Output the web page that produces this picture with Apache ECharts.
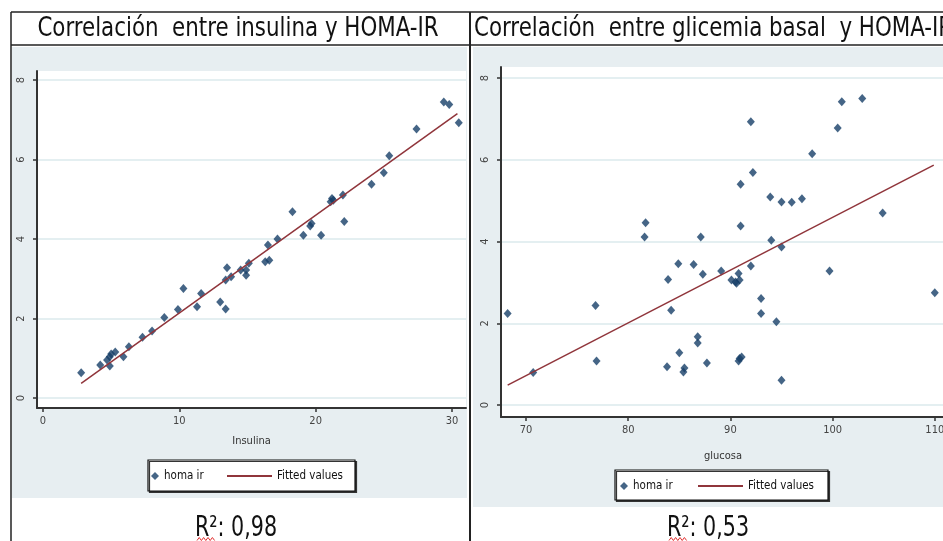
<!DOCTYPE html>
<html>
<head>
<meta charset="utf-8">
<title>Correlación HOMA-IR</title>
<script src="https://cdn.jsdelivr.net/npm/echarts@6/dist/echarts.min.js"></script>
<style>
  html, body { margin: 0; padding: 0; background: #fff; }
  #chart { width: 943px; height: 541px; }
</style>
</head>
<body>
<div id="chart"></div>
<script>
// Panel izquierdo: insulina vs homa ir
const insulina = [29.4, 29.8, 30.5, 27.4, 25.4, 25.0, 24.1, 22.0, 21.2, 21.1, 21.3, 18.3, 19.7, 19.6, 22.1, 19.1,
  20.4, 17.2, 16.5, 16.3, 16.6, 15.1, 14.9, 14.9, 14.5, 13.5, 13.4, 13.8, 13.0, 13.4, 11.6, 11.3, 10.3, 9.9,
  8.9, 8.0, 7.3, 6.3, 5.9, 5.3, 5.0, 4.9, 4.7, 4.9, 4.2, 2.8];
const homaIns = [7.45, 7.39, 6.93, 6.77, 6.10, 5.67, 5.38, 5.11, 5.02, 4.94, 4.98, 4.69, 4.39, 4.33, 4.44, 4.10,
  4.10, 4.00, 3.85, 3.43, 3.47, 3.39, 3.22, 3.09, 3.22, 3.28, 2.97, 3.05, 2.42, 2.24, 2.63, 2.30, 2.76, 2.23,
  2.03, 1.69, 1.53, 1.29, 1.04, 1.16, 1.11, 1.04, 0.96, 0.81, 0.83, 0.64];
const fitInsX = [2.8, 30.4];
const fitInsY = [0.37, 7.16];

// Panel derecho: glucosa vs homa ir
const glucosa = [102.9, 100.9, 92.0, 100.5, 98.0, 92.2, 91.0, 93.9, 95.0, 96.0, 97.0, 104.9, 81.7, 91.0, 81.6,
  87.1, 94.0, 95.0, 84.9, 86.4, 87.3, 89.1, 92.0, 83.9, 90.1, 90.5, 90.8, 90.9, 90.6, 99.7, 110.0, 93.0, 76.8,
  68.2, 84.2, 93.0, 94.5, 86.8, 86.8, 85.0, 90.9, 90.8, 91.1, 76.9, 83.8, 85.5, 85.4, 87.7, 70.7, 95.0];
const homaGlu = [7.50, 7.42, 6.93, 6.78, 6.15, 5.69, 5.40, 5.09, 4.97, 4.96, 5.05, 4.70, 4.46, 4.38, 4.11,
  4.11, 4.03, 3.87, 3.46, 3.44, 3.20, 3.28, 3.40, 3.07, 3.06, 3.01, 3.22, 3.06, 2.98, 3.28, 2.75, 2.61, 2.44,
  2.24, 2.32, 2.24, 2.04, 1.67, 1.52, 1.28, 1.14, 1.08, 1.18, 1.08, 0.94, 0.91, 0.81, 1.03, 0.80, 0.61];
const fitGluX = [68.2, 109.9];
const fitGluY = [0.49, 5.87];

const insTicks = [0, 10, 20, 30];
const gluTicks = [70, 80, 90, 100, 110];
const homaTicks = [0, 2, 4, 6, 8];

const FONT = "'Liberation Sans Narrow', 'DejaVu Sans Condensed', sans-serif";
const BG = '#e7eef1';
const DOT = '#173f68';
const FIT = '#90353b';

const zip = (xs, ys) => xs.map((x, i) => [x, ys[i]]);

const chart = echarts.init(document.getElementById('chart'));

function xAxis(gridIndex, min, max, ticks, name, nameGap) {
  return {
    gridIndex, type: 'value', min, max, name,
    nameLocation: 'middle', nameGap,
    nameTextStyle: { fontFamily: FONT, fontSize: 11, color: '#333' },
    axisLine: { show: true, onZero: false, lineStyle: { color: '#333', width: 2 } },
    axisTick: { show: true, length: 4, customValues: ticks, lineStyle: { color: '#333', width: 1.5 } },
    axisLabel: { customValues: ticks, fontFamily: FONT, fontSize: 11, color: '#444', margin: 8 },
    splitLine: { show: false }
  };
}

function yAxis(gridIndex, min, max) {
  return {
    gridIndex, type: 'value', min, max,
    axisLine: { show: true, onZero: false, lineStyle: { color: '#333', width: 2 } },
    axisTick: { show: true, length: 4, customValues: homaTicks, lineStyle: { color: '#333', width: 1.5 } },
    axisLabel: { customValues: homaTicks, rotate: 90, fontFamily: FONT, fontSize: 11, color: '#444', margin: 10 },
    splitLine: { show: true, lineStyle: { color: '#e4eff1', width: 2 } }
  };
}

function legendPair(diamondLeft, lineLeft, top) {
  const text = { fontFamily: FONT, fontSize: 11.5, color: '#111' };
  return [
    { data: [{ name: 'homa ir', icon: 'diamond' }], left: diamondLeft, top, padding: 0,
      itemWidth: 8, itemHeight: 8, itemGap: 4, textStyle: text, selectedMode: false },
    // sin símbolo en la muestra de la recta
    { data: ['Fitted values'], left: lineLeft, top, padding: 0, itemStyle: { opacity: 0 },
      itemWidth: 45, itemHeight: 10, textStyle: text, selectedMode: false }
  ];
}

// squiggly red underline under the R
function squiggle(x0, y) {
  const pts = [];
  for (let i = 0; i <= 8; i++) pts.push([x0 + i * 2.2, y + (i % 2 ? -1.5 : 1.5)]);
  return { type: 'polyline', shape: { points: pts }, style: { stroke: '#e03030', lineWidth: 1, fill: null }, z: 5, silent: true };
}

const line = (x1, y1, x2, y2, w) => ({
  type: 'line', shape: { x1, y1, x2, y2 }, style: { stroke: '#222', lineWidth: w }, z: 5, silent: true
});

const label = (text, x, y, size, sx, align) => ({
  type: 'text', x, y, scaleX: sx,
  style: { text, font: `${size}px ${FONT}`, fill: '#111', align, verticalAlign: 'middle' },
  z: 5, silent: true
});

const option = {
  animation: false,
  grid: [
    { left: 37, top: 71, width: 429, height: 337, show: true, backgroundColor: '#fff', borderWidth: 0, containLabel: false, outerBoundsMode: 'none' },
    { left: 501, top: 67, width: 444, height: 350, show: true, backgroundColor: '#fff', borderWidth: 0, containLabel: false, outerBoundsMode: 'none' }
  ],
  xAxis: [
    xAxis(0, -0.44, 31.03, insTicks, 'Insulina', 28),
    xAxis(1, 67.55, 111.0, gluTicks, 'glucosa', 34)
  ],
  yAxis: [
    yAxis(0, -0.25, 8.23),
    yAxis(1, -0.29, 8.27)
  ],
  legend: [...legendPair(151, 226, 470), ...legendPair(620, 697, 480)],
  series: [
    { name: 'homa ir', type: 'scatter', xAxisIndex: 0, yAxisIndex: 0, symbol: 'diamond', symbolSize: [8, 9],
      itemStyle: { color: DOT }, data: zip(insulina, homaIns) },
    { name: 'Fitted values', type: 'line', xAxisIndex: 0, yAxisIndex: 0, symbol: 'none',
      lineStyle: { color: FIT, width: 1.5 }, itemStyle: { color: FIT }, data: zip(fitInsX, fitInsY) },
    { name: 'homa ir', type: 'scatter', xAxisIndex: 1, yAxisIndex: 1, symbol: 'diamond', symbolSize: [8, 9],
      itemStyle: { color: DOT }, data: zip(glucosa, homaGlu) },
    { name: 'Fitted values', type: 'line', xAxisIndex: 1, yAxisIndex: 1, symbol: 'none',
      lineStyle: { color: FIT, width: 1.5 }, itemStyle: { color: FIT }, data: zip(fitGluX, fitGluY) }
  ],
  graphic: [
    // fondos de los paneles
    { type: 'rect', shape: { x: 12, y: 47, width: 455, height: 451 }, style: { fill: BG }, z: -10, silent: true },
    { type: 'rect', shape: { x: 473, y: 47, width: 470, height: 460 }, style: { fill: BG }, z: -10, silent: true },
    // cajas de leyenda
    { type: 'rect', shape: { x: 148, y: 460, width: 207, height: 31 },
      style: { fill: '#fff', stroke: '#111', lineWidth: 1.2, shadowColor: '#333', shadowOffsetX: 1.5, shadowOffsetY: 1.5 }, z: 1, silent: true },
    { type: 'rect', shape: { x: 615, y: 470, width: 213, height: 30 },
      style: { fill: '#fff', stroke: '#111', lineWidth: 1.2, shadowColor: '#333', shadowOffsetX: 1.5, shadowOffsetY: 1.5 }, z: 1, silent: true },
    // bordes de la tabla
    line(11, 12, 943, 12, 1.5),
    line(11, 45, 943, 45, 1.5),
    line(11, 12, 11, 541, 1.5),
    line(470, 12, 470, 541, 2),
    // títulos
    label('Correlación  entre insulina y HOMA-IR', 238, 29, 27, 0.88, 'center'),
    label('Correlación  entre glicemia basal  y HOMA-IR', 474, 29, 27, 0.88, 'left'),
    // R²
    label('R²: 0,98', 236, 529, 28, 0.82, 'center'),
    label('R²: 0,53', 708, 529, 28, 0.82, 'center'),
    squiggle(197, 539),
    squiggle(669, 539)
  ]
};

chart.setOption(option);
window.addEventListener('resize', () => chart.resize());
</script>
</body>
</html>
